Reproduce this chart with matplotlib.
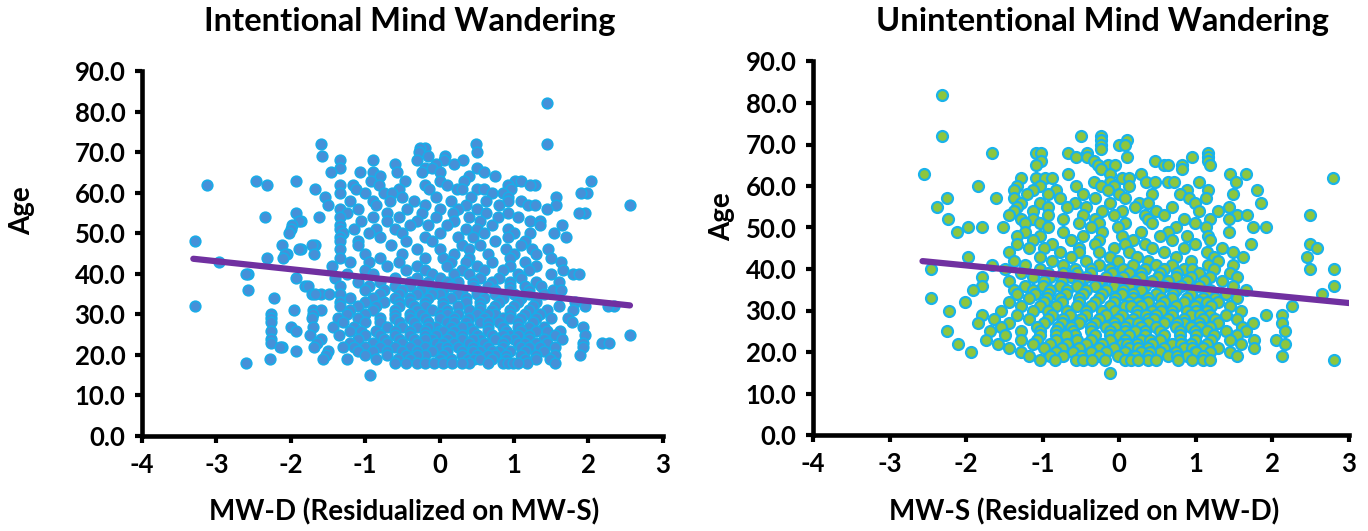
import matplotlib.pyplot as plt
import numpy as np
from matplotlib.ticker import FormatStrFormatter

plt.rcParams['font.family'] = ['Lato', 'DejaVu Sans']
plt.rcParams['font.weight'] = 'bold'
plt.rcParams['axes.unicode_minus'] = False

# Left panel: age of each row of points and the MW-D values on that row
left_ages = [82, 72, 71, 70, 69, 68, 67, 66, 65, 64, 63, 62, 61, 60, 59, 58, 57, 56, 55, 54,
             53, 52, 51, 50, 49, 48, 47, 46, 45, 44, 43, 42, 41, 40, 39, 38, 37, 36, 35, 34,
             33, 32, 31, 30, 29, 28, 27, 26, 25, 24, 23, 22, 21, 20, 19, 18, 15]
left_rows = [
    [1.45],
    [-1.59, 1.45, 0.49],
    [-0.19, -0.26],
    [-0.28, 0.51],
    [-1.58, -0.16, 0.08],
    [-1.34, -0.89, 0.06, 0.32, -0.30],
    [-0.60, 0.19, -0.05],
    [-1.34, -0.20, 0.51, -0.10],
    [-1.46, -1.07, -0.89, -0.57, 0.60, 0.01, -0.24],
    [-0.80, 0.40, 0.75],
    [-2.47, -1.93, -0.46, 0.33, 0.01, 1.01, 1.10, 2.03, -0.92],
    [-3.13, -2.32, -1.34, -0.81, -1.16, -0.19, 0.10, 0.92, 1.28, 1.21],
    [-1.67, -1.12, -0.14, 0.24, 0.51, 0.60, 0.96, -0.55, 0.30],
    [-1.34, -0.75, -0.64, 1.98, 0.70, -1.00, 0.85, 1.90],
    [-1.54, -0.50, 1.56, -0.05, 0.92, 0.42],
    [-0.66, -0.35, 0.15, 0.92, 1.10, -1.20, -0.90, 0.62],
    [-1.50, -0.19, 1.19, 1.28, 1.56, 2.56, 0.35, -0.85, 0.80],
    [-1.34, -0.44, 0.00, 0.50, -1.10, 0.25, 1.45],
    [-1.93, -0.23, 0.92, 1.95, 1.88, -0.70, 0.62, -1.25, 0.18],
    [-2.35, -1.62, -1.34, -0.90, -0.05, 0.40, 1.05, -0.55, 0.78],
    [-1.86, -1.89, 1.22, 1.35, -0.30, 0.20, -1.05, 0.55, -0.70],
    [-1.98, -1.34, -0.40, 0.10, 0.70, 1.35, 1.65, -0.15],
    [-2.00, -1.34, -1.15, 0.92, -0.60, 0.35, -0.85, 0.50],
    [-2.02, -1.30, -0.95, 1.22, 1.54, 0.00, 0.60, -0.50, 1.00],
    [-1.34, 0.92, 1.70, -0.80, 0.25, 0.45, -0.20],
    [-3.29, -1.34, -1.10, -0.45, 0.75, 1.15, -0.10],
    [-2.12, -1.67, -1.71, 1.10, 0.30, -0.65, 0.55, -1.10],
    [-1.86, -1.34, -1.89, 1.24, 1.46, 0.00, -0.30, 0.90, 0.40],
    [-2.05, -2.08, -1.69, -1.00, 0.20, 0.65, 1.00, -0.50, 1.30],
    [-2.10, -2.32, -1.34, 1.50, -0.80, 0.05, 0.40, 0.95, -0.20],
    [-2.96, 1.63, -1.20, -0.55, 0.15, 0.70, 1.15, -0.95, 0.35],
    [-0.30, 0.50, 0.95, 1.30, -1.45, 0.10, -0.70],
    [1.66, -1.00, -0.20, 0.30, 0.85, 1.20, -0.45, 0.60],
    [-2.58, -2.60, 1.80, 1.87, -0.90, -0.10, 0.40, 1.05, 1.50, -1.25, 0.20],
    [-1.93, -1.40, -0.60, 0.00, 0.55, 1.10, -0.30, 0.80],
    [-1.10, -0.40, 0.25, 0.70, 1.30, 1.60, -0.80, 0.10, -0.15, 0.45, 0.95],
    [-1.81, -1.77, -1.34, 1.36, -0.20, 0.45, 0.95, -0.60, 0.15, -0.95, -0.40, 0.65, 1.15],
    [-2.58, 1.53, 1.63, -1.00, -0.50, 0.30, 0.75, 1.20, -0.05, -0.75, -0.25, 0.05, 0.50, 0.95],
    [-1.71, -1.59, -1.67, -1.48, -1.34, -0.80, 0.00, 0.50, 1.00, 1.40, -0.30, 0.25,
     -0.55, -0.10, 0.75, 1.20],
    [-2.22, -1.20, -0.60, 0.15, 0.60, 1.10, -0.15, 0.85, -0.90, -0.40, 0.35, 1.30],
    [-1.34, -1.00, -0.40, 0.35, 0.80, 1.82, 1.30, -0.75, 0.05, -0.20, 0.55, 1.05, -0.55],
    [-3.29, -1.34, 2.34, 2.27, 1.96, -1.10, -0.20, 0.55, 1.00, -0.55, 0.25, 1.60,
     -0.85, -0.35, 0.05, 0.75, 1.25],
    [-1.95, -1.70, -1.59, 1.80, -0.90, -0.30, 0.10, 0.70, 1.20, 1.45, -1.20, 0.40,
     -0.60, -0.10, 0.55, 0.95],
    [-1.70, -2.26, -1.00, -0.60, 0.00, 0.50, 0.95, 1.35, -0.25, 0.25, 0.75,
     -1.25, -0.40, 0.10, 0.65, 1.15],
    [-2.26, -1.36, -1.72, 1.73, -0.80, -0.40, 0.20, 0.60, 1.10, 1.50, -1.10, 0.00, 0.85,
     -0.60, -0.20, 0.40, 0.95, 1.30],
    [-2.26, -1.00, -0.55, -0.15, 0.35, 0.80, 1.25, 1.78, -1.30, 0.55, 0.10,
     -0.80, -0.35, 0.20, 0.65, 1.05],
    [-2.00, -1.43, -1.70, 1.93, -0.70, -0.30, 0.15, 0.65, 1.05, 1.40, -1.15, 0.40, -0.05,
     -0.50, -0.15, 0.30, 0.85, 1.20],
    [-2.26, -1.93, -1.20, -0.85, -0.40, 0.00, 0.45, 0.90, 1.30, 1.62, 0.20, -0.60, 1.10,
     -1.05, -0.20, 0.65, 1.45, 0.05],
    [-1.74, 1.96, 2.56, -1.00, -0.60, -0.20, 0.30, 0.70, 1.20, 1.55, -1.35, 0.50, -0.05, 0.95,
     -0.80, -0.40, 0.15, 0.85, 1.05],
    [-2.26, -1.60, -1.10, -0.75, -0.35, 0.10, 0.55, 1.00, 1.40, 1.64, -0.10, 0.30, 0.75,
     -0.55, -0.20, 0.45, 0.90, 1.20],
    [-2.26, -1.65, 1.93, 2.18, 2.28, -1.20, -0.90, -0.50, -0.05, 0.40, 0.85, 1.30, 0.20, -0.30, 1.05,
     -0.70, 0.05, 0.60, 1.15, 1.45],
    [-2.12, -2.15, -1.69, -1.30, -1.00, -0.60, -0.20, 0.25, 0.65, 1.10, 1.55, 1.93, 0.00, 0.45, -0.80, 1.35,
     -0.40, 0.10, 0.85, 1.20, -1.15],
    [-1.93, -1.50, -1.10, -0.70, -0.30, 0.10, 0.55, 0.95, 1.40, -0.50, 0.30, 0.80,
     -0.90, -0.10, 0.45, 0.70, 1.15],
    [-1.53, -1.00, -0.45, 0.05, 0.50, 0.90, 1.30, 1.89, 1.55, -0.20, 0.75,
     -0.70, -0.30, 0.30, 0.65, 1.10],
    [-2.28, -1.57, -1.25, -0.56, 0.38, 0.46, 1.48, -0.85, 0.15, 0.70, 1.15,
     -0.40, 0.00, 0.55, 0.90, 1.30],
    [-2.60, -0.30, -0.20, -0.08, 0.05, 0.17, 0.85, 0.92, 0.99, 1.17, 1.55, -0.60, 0.40,
     -0.45, 0.30, 0.65, 1.05],
    [-0.94],
]

# Right panel: age of each row of points and the MW-S values on that row
right_ages = [82, 72, 71, 70, 69, 68, 67, 66, 65, 64, 63, 62, 61, 60, 59, 58, 57, 56, 55, 54,
              53, 52, 51, 50, 49, 48, 47, 46, 45, 44, 43, 42, 41, 40, 39, 38, 37, 36, 35, 34,
              33, 32, 31, 30, 29, 28, 27, 26, 25, 24, 23, 22, 21, 20, 19, 18, 15]
right_rows = [
    [-2.31],
    [-2.31, -0.50, -0.24],
    [-0.24, 0.10],
    [-0.01, 0.08, -0.24],
    [-0.24],
    [-1.66, -1.09, -1.02, -0.67, 1.16, -0.42],
    [-0.56, -0.42, 0.10, 0.95, 1.16],
    [-1.02, -0.33, 0.47, 1.16],
    [-1.09, -0.28, -0.15, -0.06, 0.58, 0.63, 0.82, 1.19],
    [-0.24, 0.82],
    [-2.55, -0.67, 1.44, 1.66, 0.28, -0.12],
    [-1.29, -1.09, -0.97, -0.88, 2.79, 0.03, 0.13],
    [-0.33, 0.35, 0.47, 0.64, 0.71, 1.53, -0.12, 1.04],
    [-1.84, -1.33, -1.03, -0.57, -0.24, 0.13, -0.07],
    [-1.38, -1.13, -0.15, 1.80, 0.89, 1.16, -0.83],
    [-1.20, -0.93, -0.01, 0.43, 1.48, 0.79, -0.48],
    [-2.25, -1.61, -1.38, -0.78, 0.08, 0.91, 1.13, -0.32],
    [-1.03, -0.58, 0.26, 0.38, 0.99, 1.85, -0.12, -1.28],
    [-2.38, -1.33, -0.93, -0.43, 0.20, 1.43, 0.69, -0.68],
    [-1.13, -0.22, 0.48, 1.04, -1.38, 0.03, 1.29],
    [-1.44, -0.93, -0.48, 0.33, 0.59, 1.54, 1.67, 2.49, -0.07],
    [-2.24, -1.29, -1.13, -0.73, -0.32, 0.38, 1.43, 1.19, 0.84],
    [-1.03, -0.53, 0.08, 0.43, 0.99, -1.23, -0.27],
    [-1.98, -1.79, -1.52, -0.93, -0.37, 0.74, 1.13, 1.74, 1.92, -0.02],
    [-2.12, -1.23, -0.73, 0.28, 0.64, 1.43, -0.22],
    [-1.03, -0.48, 0.03, 0.53, 1.16, 0.89, -1.33],
    [-1.13, -0.63, 0.18, 0.69, 1.19, -0.27],
    [-1.33, -0.88, -0.32, 0.33, 0.99, 1.72, 2.49, 0.08],
    [-1.18, -0.53, -0.07, 0.43, 0.84, 1.34, 2.58, -0.98],
    [-1.44, -0.78, -0.27, 0.13, 0.59, 1.14, 1.49, -0.53],
    [-1.98, -1.03, -0.63, -0.12, 0.23, 0.74, 1.62, 2.45, 1.24],
    [-1.38, -0.88, -0.43, 0.38, 0.94, 1.29, -0.02],
    [-1.66, -1.23, -0.73, -0.27, 0.18, 0.69, 1.16, 1.49, 0.48],
    [-2.46, -1.49, -1.03, -0.58, -0.12, 0.33, 0.84, 1.24, 2.49, 2.81, -0.37, 0.59, 0.05, 0.95],
    [-1.28, -0.93, -0.37, 0.13, 0.53, 1.04, 1.44, -0.73, 0.28, -0.55, 0.75, -0.10],
    [-1.79, -1.13, -0.63, -0.17, 0.28, 0.74, 1.19, 1.54, -0.43, 0.94, -0.90, 0.05, 0.50],
    [-1.44, -0.98, -0.53, -0.02, 0.43, 0.89, 1.34, -0.27, 0.64, -0.75, 0.20, 1.10],
    [-1.79, -1.23, -0.78, -0.32, 0.13, 0.59, 1.04, 1.49, 2.81, -0.07, 0.33, -1.00, -0.55, 0.80],
    [-1.91, -1.13, -0.68, -0.17, 0.28, 0.74, 1.19, 1.65, -1.38, 0.53, -0.43, -0.90, 0.05, 0.95],
    [-1.33, -0.93, -0.48, 0.03, 0.48, 0.94, 1.39, 2.65, 0.18, -0.22, 1.14, -0.70, 0.70, -1.10],
    [-2.46, -1.18, -0.78, -0.27, 0.18, 0.69, 1.09, 1.54, -0.53, 0.38, 0.89, -0.95, -0.05, 0.55, 1.25],
    [-2.01, -1.44, -0.98, -0.53, -0.07, 0.38, 0.84, 1.29, 0.13, -0.32, 0.59, 1.04, -0.75, 0.25, 1.15],
    [-1.28, -0.83, -0.37, 0.08, 0.53, 0.99, 1.44, 2.25, -1.03, 0.28, 0.74, -0.12, -0.55, 0.15, 1.20],
    [-2.22, -1.54, -1.13, -0.68, -0.22, 0.23, 0.69, 1.14, 1.59, -0.43, 0.43, 0.89, -0.93,
     -0.05, 0.55, 1.00],
    [-1.79, -1.33, -0.88, -0.43, 0.03, 0.48, 0.94, 1.39, 1.92, 2.12, 0.23, -0.17, 0.69, 1.19,
     -0.65, 0.35, 1.05],
    [-1.64, -1.18, -0.73, -0.27, 0.18, 0.64, 1.09, 1.54, -0.93, 0.38, -0.02, 0.84, -0.50, 0.45, 1.25],
    [-1.84, -1.44, -0.98, -0.53, -0.07, 0.38, 0.84, 1.29, 2.12, 1.75, -0.32, 0.59, 0.13, 1.04,
     -0.75, 0.25, 0.75],
    [-1.54, -1.08, -0.63, -0.17, 0.28, 0.74, 1.19, 1.60, -0.37, 0.48, 0.08, 0.94, -0.80, -0.05, 1.05],
    [-2.25, -1.69, -1.28, -0.83, -0.37, 0.08, 0.53, 0.99, 1.39, 2.17, 1.65, -0.12, 0.33, 0.79, -1.03,
     -0.60, 0.20, 1.15],
    [-1.49, -1.03, -0.58, -0.12, 0.33, 0.79, 1.24, 1.54, -0.32, 0.59, 0.13, -0.83, -0.70, 0.00, 1.00],
    [-1.74, -1.28, -0.83, -0.37, 0.08, 0.53, 0.99, 1.44, 1.76, 2.05, 0.28, -0.12, 0.79, -1.08,
     -0.55, 0.40, 1.20],
    [-2.11, -1.59, -1.13, -0.68, -0.22, 0.23, 0.69, 1.14, 1.59, 2.17, -0.43, 0.43, 0.94, 0.03,
     -0.90, 0.10, 0.80],
    [-1.44, -0.98, -0.53, -0.07, 0.38, 0.84, 1.29, 1.76, -0.27, 0.59, 0.13, 1.09, -0.75, 0.25, 0.95],
    [-1.94, -1.28, -0.83, -0.37, 0.08, 0.53, 0.99, 1.44, 0.28, -0.17, 0.74, 1.19, -0.60, 0.40, 1.00],
    [-1.18, -0.73, -0.27, 0.18, 0.64, 1.09, 1.54, 2.12, -0.02, 0.38, 0.89, -0.90, -0.50, 0.20, 0.75],
    [-1.04, -0.84, -0.57, -0.48, -0.19, 0.08, 0.15, 0.38, 0.48, 0.77, 1.09, 1.18, 2.81,
     -0.35, 0.25, 0.95],
    [-0.12],
]

# trendline end points
left_fit_x = [-3.31, 2.56]
left_fit_y = [43.7, 32.2]
right_fit_x = [-2.57, 3.0]
right_fit_y = [41.9, 31.8]

left_x = [v for row in left_rows for v in row]
left_y = [a for a, row in zip(left_ages, left_rows) for v in row]
right_x = [v for row in right_rows for v in row]
right_y = [a for a, row in zip(right_ages, right_rows) for v in row]

W, H = 1368, 531
fig = plt.figure(figsize=(W / 100, H / 100), dpi=100)
ax1 = fig.add_axes([142 / W, 1 - 436 / H, 520.7 / W, 365 / H])
ax2 = fig.add_axes([813 / W, 1 - 435 / H, 536 / W, 373.5 / H])

ax1.scatter(left_x, left_y, s=58, color='#4690D8', edgecolors='#1AACE8', linewidths=1.2, zorder=2)
ax1.plot(left_fit_x, left_fit_y, color='#7030A0', lw=4.5, solid_capstyle='round', zorder=3)
ax2.scatter(right_x, right_y, s=62, color='#8CC63F', edgecolors='#19B3EA', linewidths=1.6, zorder=2)
ax2.plot(right_fit_x, right_fit_y, color='#7030A0', lw=4.5, solid_capstyle='round', zorder=3)

for ax in (ax1, ax2):
    ax.set_xlim(-4, 3)
    ax.set_ylim(0, 90)
    ax.set_xticks(range(-4, 4))
    ax.set_yticks(np.arange(0, 91, 10))
    ax.yaxis.set_major_formatter(FormatStrFormatter('%.1f'))
    ax.spines['top'].set_visible(False)
    ax.spines['right'].set_visible(False)
    ax.spines['left'].set_linewidth(3.3)
    ax.spines['bottom'].set_linewidth(3.3)
    ax.tick_params(axis='both', direction='out', length=5, width=3, labelsize=18.5, pad=7)
    for lab in ax.get_xticklabels() + ax.get_yticklabels():
        lab.set_fontweight('bold')

fig.text(410 / W, 1 - 22 / H, 'Intentional Mind Wandering', ha='center', va='center', fontsize=23.5, fontweight='bold')
fig.text(1102 / W, 1 - 22 / H, 'Unintentional Mind Wandering', ha='center', va='center', fontsize=23.5, fontweight='bold')
fig.text(404 / W, 1 - 512 / H, 'MW-D (Residualized on MW-S)', ha='center', va='center', fontsize=20, fontweight='bold')
fig.text(1084 / W, 1 - 512 / H, 'MW-S (Residualized on MW-D)', ha='center', va='center', fontsize=20, fontweight='bold')
fig.text(22 / W, 1 - 211 / H, 'Age', ha='center', va='center', rotation=90, fontsize=20, fontweight='bold')
fig.text(722 / W, 1 - 217 / H, 'Age', ha='center', va='center', rotation=90, fontsize=20, fontweight='bold')

fig.savefig('out.png', dpi=100)
